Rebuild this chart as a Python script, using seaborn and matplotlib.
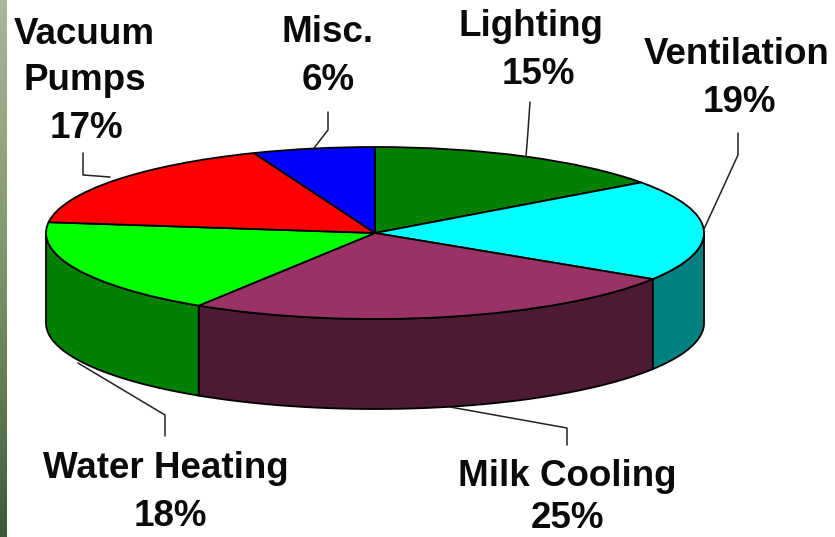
import numpy as np
import matplotlib
matplotlib.use("Agg")
import matplotlib.pyplot as plt
from matplotlib.colors import LinearSegmentedColormap
from matplotlib.transforms import Affine2D
import seaborn as sns

# Energy use by category, clockwise from twelve o'clock
categories = ["Lighting", "Ventilation", "Milk Cooling", "Water Heating", "Vacuum Pumps", "Misc."]
shares = [15, 19, 25, 18, 17, 6]

top_colors = ["#008000", "#00FFFF", "#993366", "#00FF00", "#FF0000", "#0000FF"]
wall_colors = ["#005000", "#008080", "#4C1A33", "#008000", "#800000", "#000080"]

W, H = 835, 537
CX, CY = 375, 233      # disc centre, pixels
RX, RY = 329, 86       # disc radii, pixels
DEPTH = 90             # wall height, pixels

sns.set_theme(style="white")
plt.rcParams["font.family"] = ["Liberation Sans", "DejaVu Sans"]

fig = plt.figure(figsize=(W / 100, H / 100), dpi=100, facecolor="white")
ax = fig.add_axes([0, 0, 1, 1])

# One data unit spans RX pixels across and RY pixels down, which squashes the pie
xlim = (-CX / RX, (W - CX) / RX)
ylim = ((CY - H) / RY, CY / RY)
depth = DEPTH / RY
edge = {"edgecolor": "black", "linewidth": 1.3}

# Side walls: only the part of each slice facing the viewer is visible
edges = np.cumsum([0] + shares) / sum(shares) * 360
for start, stop, colour in zip(edges[:-1], edges[1:], wall_colors):
    lo, hi = max(start, 90), min(stop, 270)
    if lo >= hi:
        continue
    theta = np.radians(np.linspace(lo, hi, 120))
    x, y = np.sin(theta), np.cos(theta)
    ax.fill(np.r_[x, x[::-1]], np.r_[y, y[::-1] - depth], facecolor=colour,
            zorder=1, **edge)

# Top face
ax.pie(shares, colors=top_colors, startangle=90, counterclock=False,
       radius=1, frame=True, wedgeprops={**edge, "zorder": 2})
ax.set_aspect("auto")
ax.set_xlim(*xlim)
ax.set_ylim(*ylim)
ax.set_axis_off()

# Overlay coordinates in pixels from the top-left corner
px = Affine2D().scale(1, -1).translate(0, H)

# Gradient strip down the left margin
strip = LinearSegmentedColormap.from_list(
    "strip", ["#A9B899", "#94A67F", "#7F9468", "#5F7A50", "#3A5A36"])
ax_strip = fig.add_axes([0, 0, 7 / W, 1])
ax_strip.imshow(np.linspace(0, 1, 256)[:, None], aspect="auto", cmap=strip)
ax_strip.set_axis_off()

text_style = {"fontsize": 26.5, "fontweight": "bold", "color": "#0A0A0A",
              "ha": "center", "va": "center", "transform": px, "zorder": 5}

label_lines = {
    "Lighting": [("Lighting", 531, 27), (None, 538, 74)],
    "Ventilation": [("Ventilation", 737, 54), (None, 739, 102)],
    "Milk Cooling": [("Milk Cooling", 567, 477), (None, 568, 519)],
    "Water Heating": [("Water Heating", 166, 468), (None, 170, 517)],
    "Vacuum Pumps": [("Vacuum", 84, 34), ("Pumps", 85, 81), (None, 86, 129)],
    "Misc.": [("Misc.", 327, 32), (None, 328, 81)],
}
leaders = {
    "Lighting": [(530, 102), (528, 131), (526, 157)],
    "Ventilation": [(738, 133), (738, 155), (704, 229)],
    "Milk Cooling": [(567, 445), (567, 428), (450, 407)],
    "Water Heating": [(165, 436), (165, 415), (78, 363)],
    "Vacuum Pumps": [(83, 153), (83, 175), (110, 177)],
    "Misc.": [(328, 112), (328, 130), (314, 148)],
}

for name, share in zip(categories, shares):
    for line, x, y in label_lines[name]:
        ax.text(x, y, line if line else f"{share}%", **text_style)
    xs, ys = zip(*leaders[name])
    ax.plot(xs, ys, color="#222222", linewidth=1.1, transform=px, zorder=3,
            clip_on=False)

fig.savefig("out.png", dpi=100)
